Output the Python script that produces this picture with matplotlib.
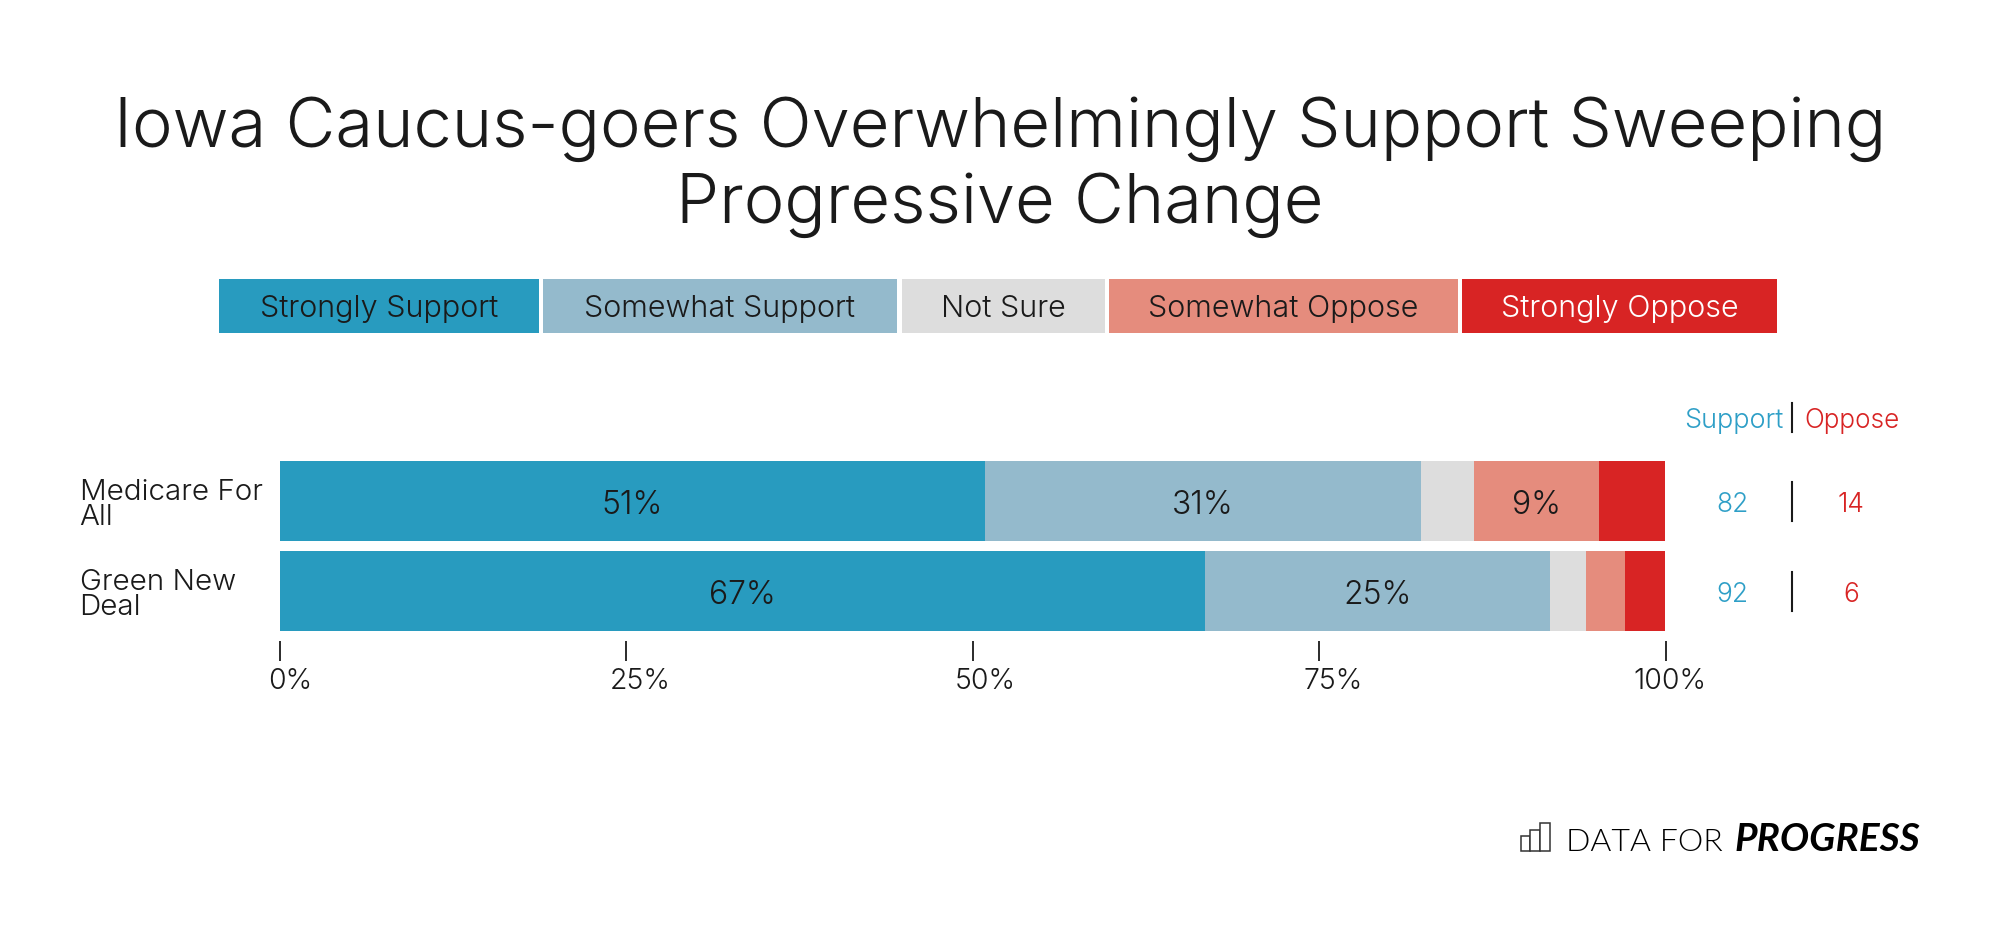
import matplotlib
matplotlib.use("Agg")
import matplotlib.pyplot as plt
from matplotlib.patches import Rectangle
from matplotlib.transforms import ScaledTranslation

plt.rcParams['font.family'] = ['Inter', 'DejaVu Sans']
plt.rcParams['font.weight'] = 300

title = "Iowa Caucus-goers Overwhelmingly Support Sweeping\nProgressive Change"

categories = ["Medicare For\nAll", "Green New\nDeal"]
levels = ["Strongly Support", "Somewhat Support", "Not Sure", "Somewhat Oppose", "Strongly Oppose"]
strongly_support = [50.9, 66.8]
somewhat_support = [31.45, 24.9]
not_sure = [3.8, 2.55]
somewhat_oppose = [9.05, 2.8]
strongly_oppose = [4.8, 2.95]
bar_labels = [["51%", "67%"], ["31%", "25%"], ["", ""], ["9%", ""], ["", ""]]
support_totals = ["82", "92"]
oppose_totals = ["14", "6"]
x_ticks = [0, 25, 50, 75, 100]
x_labels = ["0%", "25%", "50%", "75%", "100%"]

colors = ["#289BBF", "#94BACC", "#DDDDDD", "#E58C7D", "#D82424"]
TEXT = "#1a1a1a"
W, H = 2000, 932


def px(x, y):
    # reference pixels to figure fraction
    return x / W, 1 - y / H


fig = plt.figure(figsize=(20, 9.32), dpi=100, facecolor="white")

ax = fig.add_axes([279.5 / W, 1 - 641 / H, 1386 / W, 185 / H])
ax.set_xlim(0, 100)
ax.set_ylim(1 + 50 / 90, -0.5)

series = [strongly_support, somewhat_support, not_sure, somewhat_oppose, strongly_oppose]
left = [0, 0]
for vals, col, labs in zip(series, colors, bar_labels):
    ax.barh([0, 1], vals, left=left, height=80 / 90, color=col, linewidth=0)
    for i in range(2):
        if labs[i]:
            ax.text(left[i] + vals[i] / 2, i + 0.05, labs[i], ha="center", va="center", fontsize=23,
                    color=TEXT)
    left = [left[0] + vals[0], left[1] + vals[1]]

for s in ax.spines.values():
    s.set_visible(False)
ax.patch.set_visible(False)

ax.set_yticks([0, 1])
ax.set_yticklabels(categories, ha="left", fontsize=21.3, color=TEXT, linespacing=0.9)
ax.tick_params(axis="y", length=0, pad=144)
for lab in ax.get_yticklabels():
    lab.set_transform(lab.get_transform() + ScaledTranslation(0, -0.025, fig.dpi_scale_trans))

ax.set_xticks(x_ticks)
ax.set_xticklabels(x_labels, fontsize=20.5, color=TEXT)
ax.tick_params(axis="x", length=14.4, width=1.3, color=TEXT, pad=5)
# labels sit a little right of their ticks in the original
for lab, shift in zip(ax.get_xticklabels(), [11, 14, 13, 14, 4]):
    lab.set_transform(lab.get_transform() + ScaledTranslation(shift / 100, 0, fig.dpi_scale_trans))

fig.text(*px(1000, 167), title, ha="center", va="center", fontsize=49.4, color=TEXT,
         linespacing=1.2)

# legend strip
edges = [(219, 538.5), (543, 897), (901.5, 1104.6), (1108.7, 1458), (1462, 1777)]
for (x0, x1), col, name in zip(edges, colors, levels):
    fig.patches.append(Rectangle(px(x0, 333), (x1 - x0) / W, 54 / H, transform=fig.transFigure,
                                 facecolor=col, linewidth=0))
    fig.text(*px((x0 + x1) / 2, 309), name, ha="center", va="center", fontsize=22,
             color="white" if name == "Strongly Oppose" else TEXT)

# support / oppose columns
teal = "#2E9FC7"
red = "#D82424"
fig.text(*px(1784, 421), "Support", ha="right", va="center", fontsize=19.5, color=teal)
fig.text(*px(1804, 421), "Oppose", ha="left", va="center", fontsize=18.8, color=red)
fig.add_artist(plt.Line2D([1792 / W] * 2, [1 - 403 / H, 1 - 432 / H], color=TEXT, lw=1.5))
for i, yc in enumerate([501, 591]):
    fig.text(*px(1732, yc + 3.5), support_totals[i], ha="center", va="center", fontsize=19, color=teal)
    fig.text(*px(1851, yc + 3.5), oppose_totals[i], ha="center", va="center", fontsize=19, color=red)
    fig.add_artist(plt.Line2D([1792 / W] * 2, [1 - (yc - 19) / H, 1 - (yc + 20) / H], color=TEXT, lw=1.5))

# logo
for x0, x1, y0 in [(1521, 1530, 836), (1530, 1540, 830), (1540, 1550, 823)]:
    fig.patches.append(Rectangle(px(x0, 851), (x1 - x0) / W, (851 - y0) / H, transform=fig.transFigure,
                                 facecolor="white", edgecolor="#333333", linewidth=1.1))
fig.text(*px(1566, 851), "DATA FOR", ha="left", va="baseline", fontsize=23, color="#000000",
         fontweight=300, family=["Lato", "DejaVu Sans"])
fig.text(*px(1920, 851), "PROGRESS", ha="right", va="baseline", fontsize=28, color="#000000",
         fontweight="bold", style="italic", family=["Lato", "DejaVu Sans"])

fig.savefig("out.png", dpi=100)
